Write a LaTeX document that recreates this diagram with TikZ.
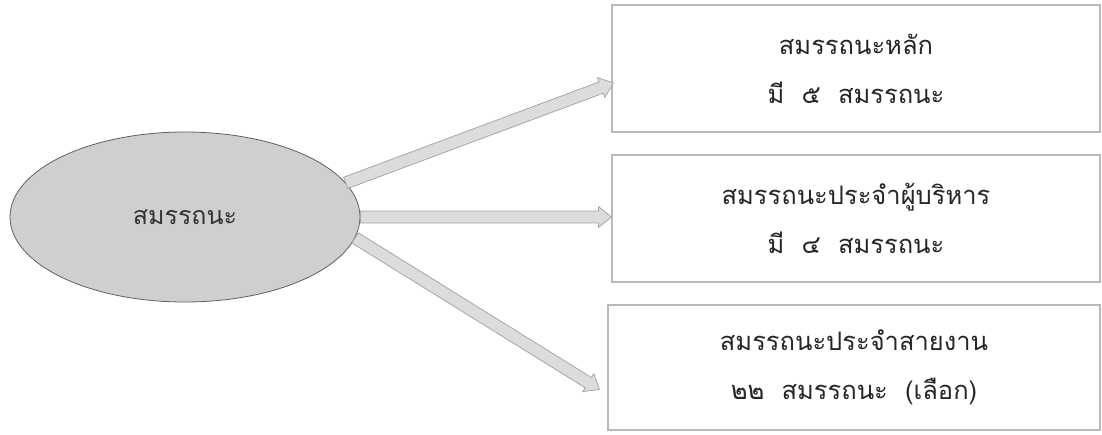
\documentclass[tikz,border=0pt]{standalone}
\usepackage{fontspec}
\newfontfamily\thaifont[Script=Thai]{Loma}
\usetikzlibrary{shapes.geometric,calc}
\definecolor{ovalfill}{HTML}{CDCFD1}
\definecolor{arrowfill}{HTML}{DCDCDC}
\tikzset{
  oval/.style={ellipse,draw=gray!75!black,fill=ovalfill,line width=.8pt,
    minimum width=350,minimum height=170,inner sep=0pt,
    font=\thaifont\fontsize{25}{30}\selectfont,text=gray!40!black},
  kindbox/.style={rectangle,draw=gray!55,line width=1.2pt,fill=white,
    minimum width=488,minimum height=127,inner sep=0pt,align=center,
    font=\thaifont\fontsize{25.5}{49}\selectfont,text=black!85},
  blockarr/.style={draw=gray!70,fill=arrowfill,line width=.8pt,line join=miter}
}
% hollow block arrow from #1 to #2
\newcommand\blockarrow[2]{%
  \draw[blockarr] let \p1=(#1),\p2=(#2),
    \n1={atan2(\y2-\y1,\x2-\x1)},\n2={veclen(\x2-\x1,\y2-\y1)} in
    [shift={(\p1)},rotate=\n1]
    (0,-6)--(\n2-13,-6)--(\n2-13,-10.5)--(\n2,0)--(\n2-13,10.5)--(\n2-13,6)--(0,6)--cycle;}
\begin{document}
\begin{tikzpicture}[x=1pt,y=1pt]
\useasboundingbox (0,0) rectangle (1102,-434);
\node[oval] (ell) at (185,-217) {สมรรถนะ};
\node[kindbox] (b1) at (856,-68.5) {สมรรถนะหลัก\\มี~ ๕~ สมรรถนะ};
\node[kindbox] (b2) at (856,-218.5) {สมรรถนะประจำผู้บริหาร\\มี~ ๔~ สมรรถนะ};
\node[kindbox,minimum width=492,minimum height=125] (b3) at (854,-367.5) {สมรรถนะประจำสายงาน\\๒๒~ สมรรถนะ~ (เลือก)};
\coordinate (t1) at ($(b1.west)+(2,-14.5)$);
\coordinate (t3) at ($(b3.west)+(-8,-22)$);
\blockarrow{ell.12}{t1}
\blockarrow{ell.east}{ell.east -| b2.west}
\blockarrow{ell.-7}{t3}
\end{tikzpicture}
\end{document}
